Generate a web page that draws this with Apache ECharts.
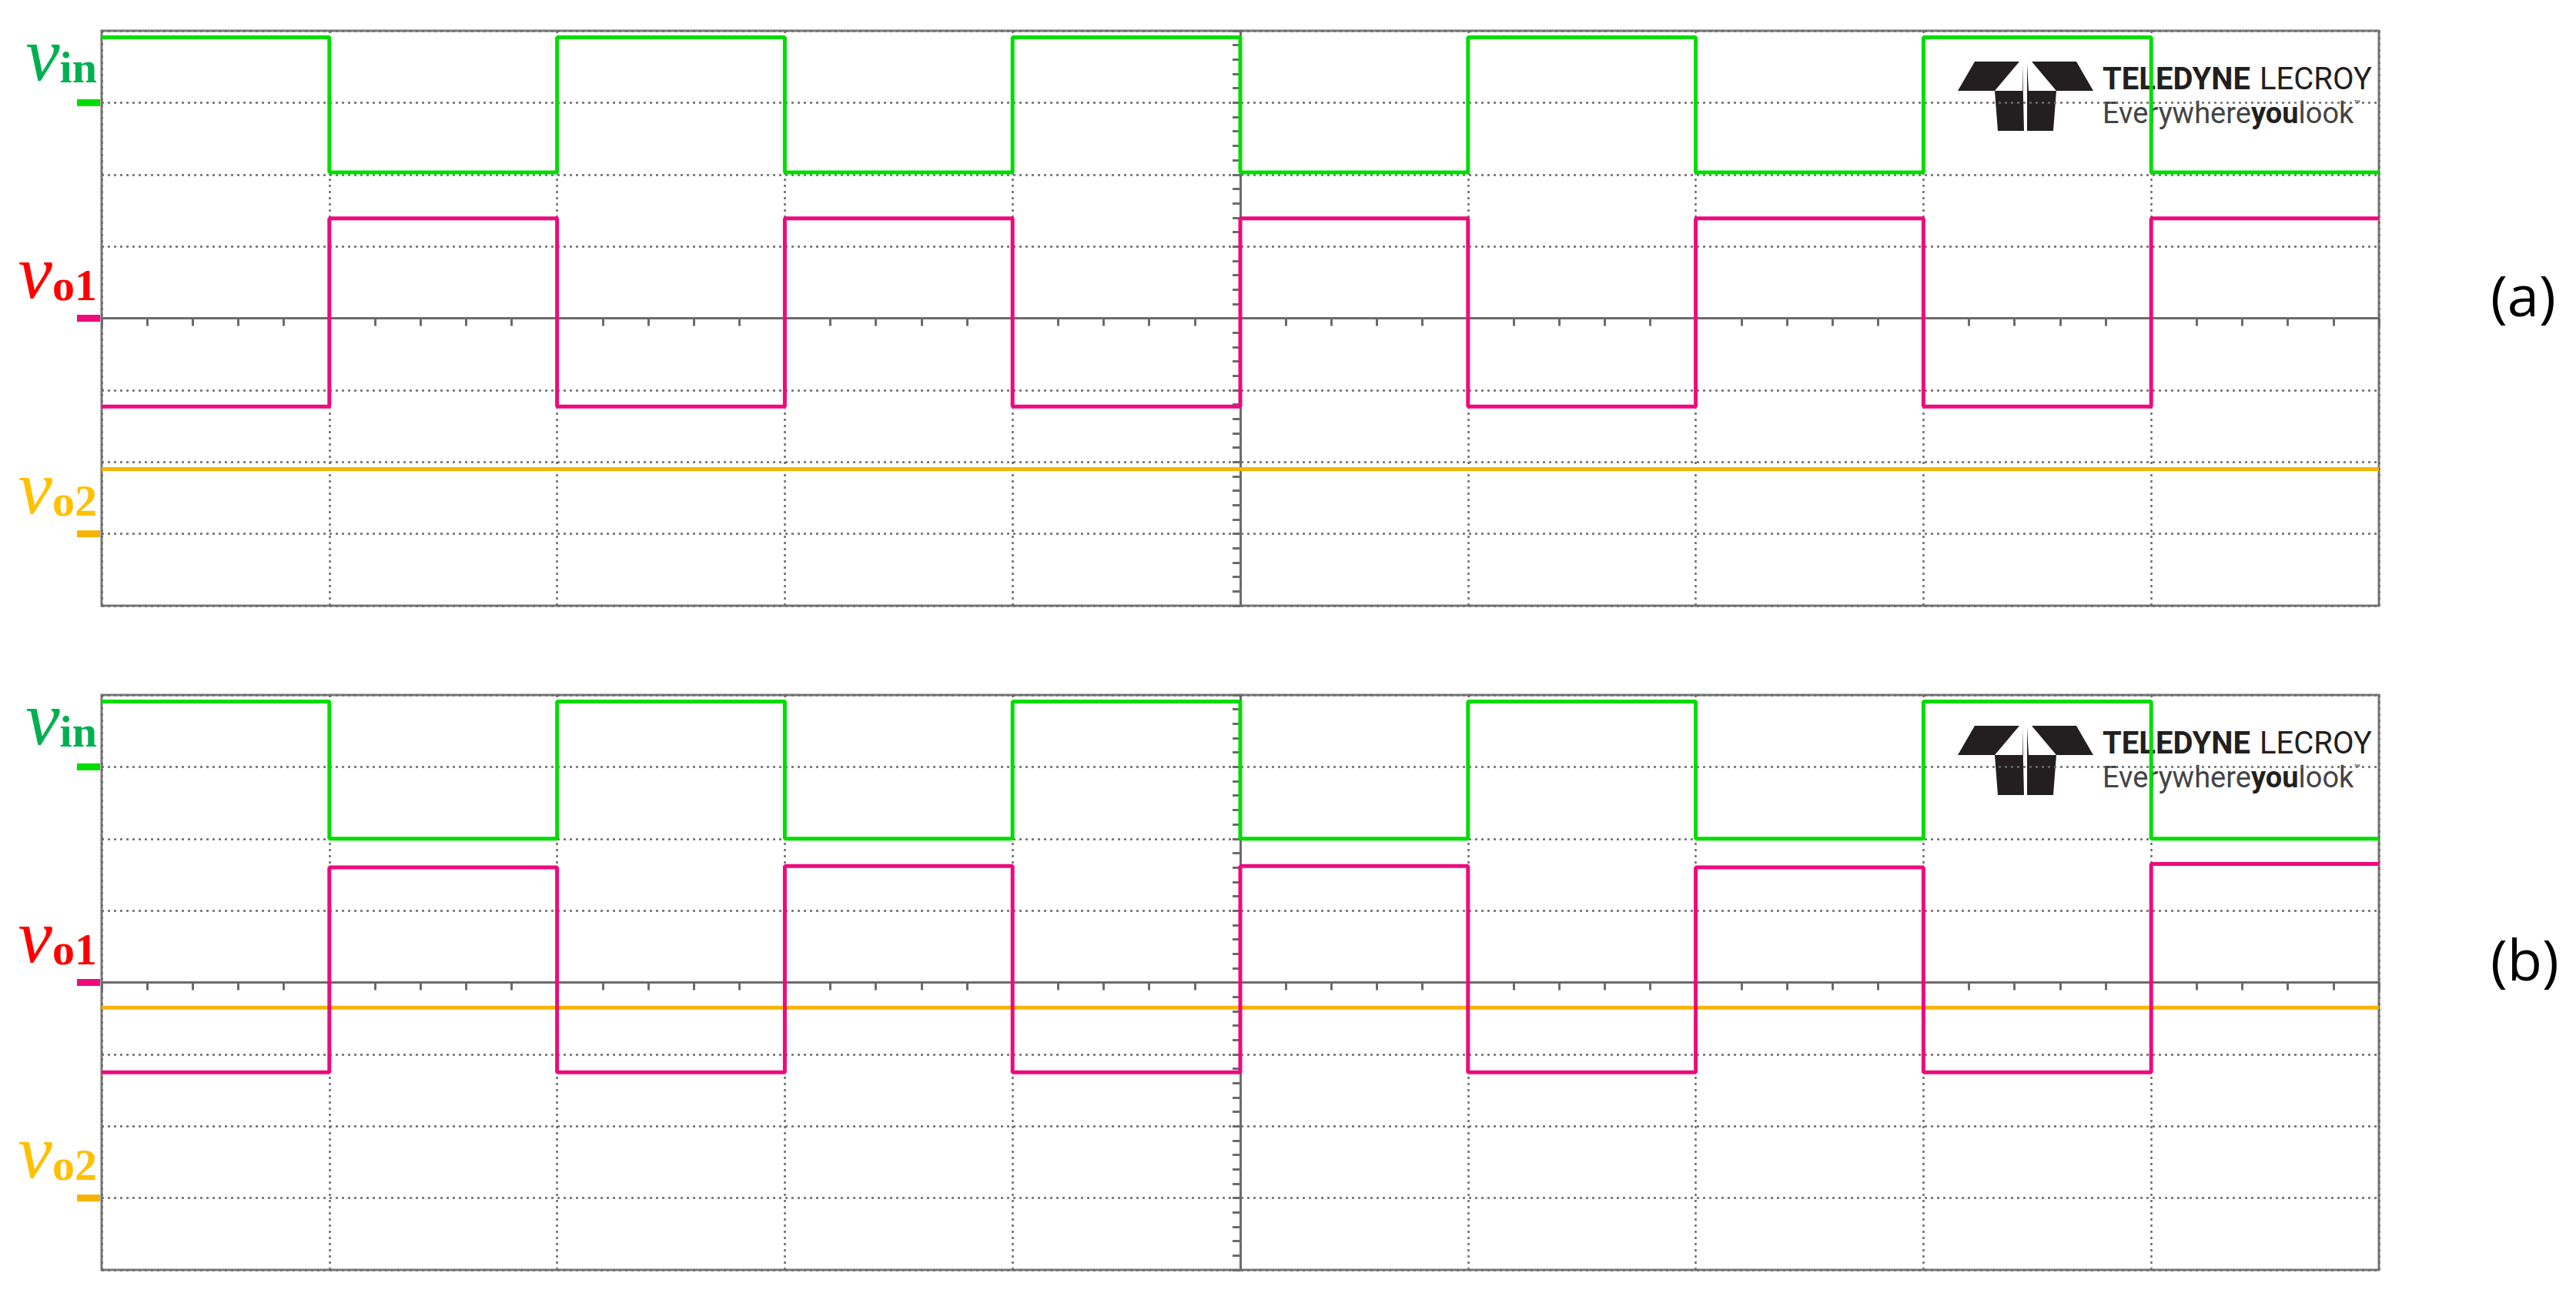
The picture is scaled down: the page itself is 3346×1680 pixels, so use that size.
<!DOCTYPE html>
<html>
<head>
<meta charset="utf-8">
<script src="https://cdn.jsdelivr.net/npm/echarts@6/dist/echarts.min.js"></script>
<style>html,body{margin:0;background:#fff}#c{width:3346px;height:1680px}</style>
</head>
<body>
<div id="c"></div>
<script>
// time axis in divisions, centred on 0 (10 div wide, 8 div tall)
var edgeTimes = [-5, -4, -3, -2, -1, 0, 1, 2, 3, 4, 5];
// level of each trace in each of the 10 segments (divisions from centre)
var vinA = [3.91, 2.03, 3.91, 2.03, 3.91, 2.03, 3.91, 2.03, 3.91, 2.03];
var vo1A = [-1.23, 1.39, -1.23, 1.39, -1.23, 1.39, -1.23, 1.39, -1.23, 1.39];
var vo2A = [-2.1, -2.1, -2.1, -2.1, -2.1, -2.1, -2.1, -2.1, -2.1, -2.1];
var vinB = [3.91, 2.0, 3.91, 2.0, 3.91, 2.0, 3.91, 2.0, 3.91, 2.0];
var vo1B = [-1.25, 1.6, -1.25, 1.62, -1.25, 1.62, -1.25, 1.6, -1.25, 1.65];
var vo2B = [-0.35, -0.35, -0.35, -0.35, -0.35, -0.35, -0.35, -0.35, -0.35, -0.35];
// channel ground markers
var markers = { vin: 3, vo1: 0, vo2: -3 };
var panelTags = ['(a)', '(b)'];

var green = '#00dd00', pink = '#ee0a7c', orange = '#f6b400';
var gridColor = '#6b6b6b';

function steps(levels) {
  var d = [];
  for (var i = 0; i < levels.length; i++) d.push([edgeTimes[i], levels[i]]);
  d.push([edgeTimes[edgeTimes.length - 1], levels[levels.length - 1]]);
  return d;
}

function centreAxis(p, inside, min, max) {
  return {
    gridIndex: p, type: 'value', min: min, max: max, interval: 1,
    axisLine: { onZero: true, lineStyle: { color: gridColor, width: 3 } },
    axisTick: { show: true, inside: inside, length: 10, lineStyle: { color: gridColor, width: 3 } },
    minorTick: { show: true, splitNumber: 5, length: 10, lineStyle: { color: gridColor, width: 3 } },
    axisLabel: { show: false },
    splitLine: { show: !inside, lineStyle: { color: gridColor, width: 2.5, type: [3, 5] } }
  };
}

var chart = echarts.init(document.getElementById('c'), null, { renderer: 'svg' });
var grids = [
  { left: 132, right: 256, top: 40, height: 747 },
  { left: 132, right: 256, top: 903, height: 747 }
];
var xAxes = [], yAxes = [], series = [], graphics = [];
var panels = [[vinA, vo1A, vo2A], [vinB, vo1B, vo2B]];
var colors = [green, pink, orange];
var keys = ['vin', 'vo1', 'vo2'];

grids.forEach(function (g, p) {
  g.show = true; g.borderColor = '#777'; g.borderWidth = 3; g.backgroundColor = '#fff';
  xAxes.push(centreAxis(p, false, -5, 5));
  yAxes.push(centreAxis(p, false, -4, 4));
  panels[p].forEach(function (lv, k) {
    series.push({
      type: 'line', step: 'end', xAxisIndex: p, yAxisIndex: p, symbol: 'none',
      data: steps(lv), z: 5 - k,
      lineStyle: { color: colors[k], width: 5 },
      markPoint: {
        silent: true,
        data: [{ coord: [-5, markers[keys[k]]], symbol: 'rect', symbolSize: [30, 9], symbolOffset: [-17, 0],
          itemStyle: { color: colors[k] }, label: { show: false } }]
      }
    });
  });
  var off = p * 863;
  var lbl = [
    { t: 'in', y: 112, c: '#00b050' },
    { t: 'o1', y: 395, c: '#ff0000' },
    { t: 'o2', y: 675, c: '#ffc000' }
  ];
  lbl.forEach(function (l) {
    graphics.push({
      type: 'text', right: 3346 - 126, top: l.y + off - 92,
      style: {
        text: '{v|v}{s|' + l.t + '}',
        rich: {
          v: { fontFamily: 'Liberation Serif', fontStyle: 'italic', fontSize: 100, fill: l.c, lineHeight: 100 },
          s: { fontFamily: 'Liberation Serif', fontWeight: 'bold', fontSize: 58, fill: l.c, padding: [34, 0, 0, 0], lineHeight: 100 }
        }
      }
    });
  });
  graphics.push({
    type: 'text', left: 3235, top: 345 + off,
    style: { text: panelTags[p], fontFamily: 'Open Sans', fontSize: 74, fill: '#000' }
  });
  // logo
  graphics.push({
    type: 'group', left: 2543, top: 80 + off, z: 10,
    children: [
      { type: 'polygon', shape: { points: [[22, 0], [80, 0], [48, 38], [0, 38]] }, style: { fill: '#231f20' } },
      { type: 'polygon', shape: { points: [[96, 0], [154, 0], [176, 38], [128, 38]] }, style: { fill: '#231f20' } },
      { type: 'polygon', shape: { points: [[48, 38], [84, 38], [84, 2], [86, 90], [52, 90]] }, style: { fill: '#231f20' } },
      { type: 'polygon', shape: { points: [[90, 2], [92, 38], [128, 38], [124, 90], [90, 90]] }, style: { fill: '#231f20' } },
      { type: 'text', left: 188, top: 2, style: { text: 'TELEDYNE', fontFamily: 'Roboto', fontWeight: 'bold', fontSize: 40, fill: '#231f20' } },
      { type: 'text', left: 392, top: 2, style: { text: 'LECROY', fontFamily: 'Roboto', fontSize: 40, fill: '#231f20' } },
      { type: 'text', left: 188, top: 48, style: { text: '{n|Everywhere}{b|you}{n|look}{t|™}', rich: {
        b: { fontFamily: 'Roboto', fontWeight: 'bold', fontSize: 38, fill: '#231f20' },
        n: { fontFamily: 'Roboto', fontSize: 38, fill: '#444' },
        t: { fontFamily: 'Roboto', fontSize: 14, fill: '#444', verticalAlign: 'top' } } } }
    ]
  });
});

chart.setOption({
  animation: false,
  grid: grids,
  xAxis: xAxes,
  yAxis: yAxes,
  series: series,
  graphic: graphics
});
</script>
</body>
</html>
